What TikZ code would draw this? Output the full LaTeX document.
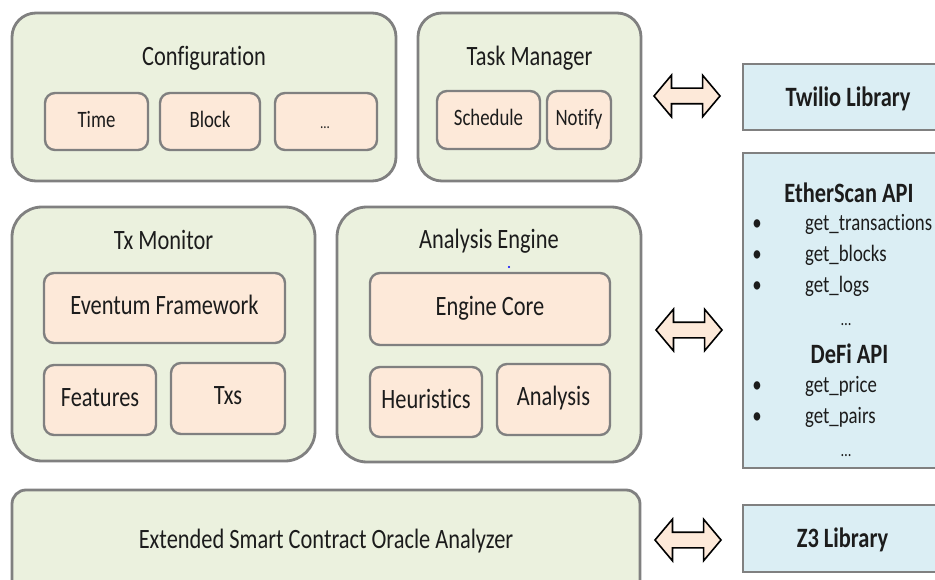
\documentclass[tikz,border=0pt]{standalone}
\usepackage{fontspec}
\setmainfont{Carlito}[FakeStretch=0.8, Ligatures=NoCommon]
\usetikzlibrary{shapes.arrows}

\definecolor{panelfill}{HTML}{EBF1DE}
\definecolor{partfill}{HTML}{FDE9D9}
\definecolor{libfill}{HTML}{DBEEF4}
\definecolor{edgegray}{HTML}{808080}
\definecolor{ink}{HTML}{1C1C1C}

\tikzset{
  panel/.style={draw=edgegray, line width=2.8pt, fill=panelfill, inner sep=0pt},
  part/.style={draw=edgegray, line width=2.4pt, fill=partfill, rounded corners=10pt,
    inner sep=0pt, text=ink},
  libbox/.style={draw=edgegray, line width=2.8pt, fill=libfill, inner sep=0pt},
  heading/.style={text=ink, inner sep=0pt, font=\fontsize{28}{32}\selectfont},
  small/.style={font=\fontsize{23.5}{27}\selectfont, text height=15pt, text depth=3.2pt},
  large/.style={font=\fontsize{28}{32}\selectfont, text height=18pt, text depth=5.3pt},
  libhead/.style={text=ink, inner sep=0pt, font=\fontsize{28}{32}\selectfont\bfseries},
  item/.style={text=ink, inner sep=0pt, anchor=base west, font=\fontsize{23.5}{27}\selectfont},
  bullet/.style={text=ink, inner sep=0pt, anchor=base, font=\fontsize{23.5}{27}\selectfont},
  dots/.style={text=ink, inner sep=0pt, anchor=base},
  link/.style={double arrow, draw=black, line width=1.6pt, fill=partfill,
    inner xsep=0pt, inner ysep=7pt, minimum height=66pt,
    double arrow head extend=13pt, double arrow tip angle=100}
}

\begin{document}
\begin{tikzpicture}[x=1pt, y=-1pt]
\clip (0,0) rectangle (935,580);
\fill[white] (0,0) rectangle (935,580);

% Configuration
\node[panel, rounded corners=24pt, minimum width=384pt, minimum height=168pt] (config) at (204,97) {};
\node[heading, anchor=base] (configT) at (204,66) {Configuration};
\node[part, small, minimum width=103pt, minimum height=57pt] (time) at (96.5,121.5) {Time};
\node[part, small, minimum width=100pt, minimum height=57pt] (block) at (210,121.5) {Block};
\node[part, minimum width=102pt, minimum height=57pt] (more) at (326,121.5) {};
\node[dots, font=\fontsize{16}{18}\selectfont] (moreT) at (325,129) {\ldots};

% Task Manager
\node[panel, rounded corners=24pt, minimum width=223pt, minimum height=168pt] (task) at (529.5,97) {};
\node[heading, anchor=base] (taskT) at (529.5,66) {Task Manager};
\node[part, small, minimum width=103pt, minimum height=58pt] (schedule) at (488.5,120) {Schedule};
\node[part, small, minimum width=64pt, minimum height=58pt] (notify) at (579,120) {Notify};

% Tx Monitor
\node[panel, rounded corners=30pt, minimum width=303pt, minimum height=254pt] (txmon) at (163.5,334) {};
\node[heading, anchor=base] (txmonT) at (163.5,250) {Tx Monitor};
\node[part, large, minimum width=241pt, minimum height=70pt] (eventum) at (164.5,308) {Eventum Framework};
\node[part, large, minimum width=112pt, minimum height=70pt] (features) at (100,400) {Features};
\node[part, large, minimum width=114pt, minimum height=71pt] (txs) at (228,398.5) {Txs};

% Analysis Engine
\node[panel, rounded corners=30pt, minimum width=304pt, minimum height=255pt] (engine) at (489,334.5) {};
\node[heading, anchor=base] (engineT) at (489,249) {Analysis Engine};
\node[part, large, minimum width=240pt, minimum height=72pt] (core) at (490,309) {Engine Core};
\node[part, large, minimum width=112pt, minimum height=70pt] (heur) at (426,402) {Heuristics};
\node[part, large, minimum width=113pt, minimum height=71pt] (analysis) at (553.5,399.5) {Analysis};
\fill[blue] (509,267) circle (1.2pt);

% Oracle analyzer
\node[panel, rounded corners=14pt, minimum width=628pt, minimum height=120pt] (oracle) at (326,550) {};
\node[heading, anchor=base] (oracleT) at (326,548) {Extended Smart Contract Oracle Analyzer};

% External libraries
\node[libbox, minimum width=210pt, minimum height=66pt] (twilio) at (848,97) {};
\node[libhead, anchor=base] (twilioT) at (848,107) {Twilio Library};

\node[libbox, minimum width=210pt, minimum height=315pt] (apis) at (848,310.5) {};
\node[libhead, anchor=base] (etherT) at (849,203) {EtherScan API};
\node[bullet] (b1) at (757,231) {\textbullet};
\node[item] (i1) at (805,231) {get\_transactions};
\node[bullet] (b2) at (757,262) {\textbullet};
\node[item] (i2) at (805,262) {get\_blocks};
\node[bullet] (b3) at (757,293) {\textbullet};
\node[item] (i3) at (805,293) {get\_logs};
\node[dots, font=\fontsize{18}{20}\selectfont] (d1) at (846,325) {\ldots};
\node[libhead, anchor=base] (defiT) at (849.5,363) {DeFi API};
\node[bullet] (b4) at (757,392) {\textbullet};
\node[item] (i4) at (805,392) {get\_price};
\node[bullet] (b5) at (757,423) {\textbullet};
\node[item] (i5) at (805,423) {get\_pairs};
\node[dots, font=\fontsize{18}{20}\selectfont] (d2) at (846,456) {\ldots};

\node[libbox, minimum width=210pt, minimum height=67pt] (z3) at (848,538.5) {};
\node[libhead, anchor=base] (z3T) at (842.5,547) {Z3 Library};

% Two-way links
\node[link] (linkTop) at (687,96) {};
\node[link] (linkMid) at (689,330) {};
\node[link] (linkBot) at (688,540) {};
\end{tikzpicture}
\end{document}
